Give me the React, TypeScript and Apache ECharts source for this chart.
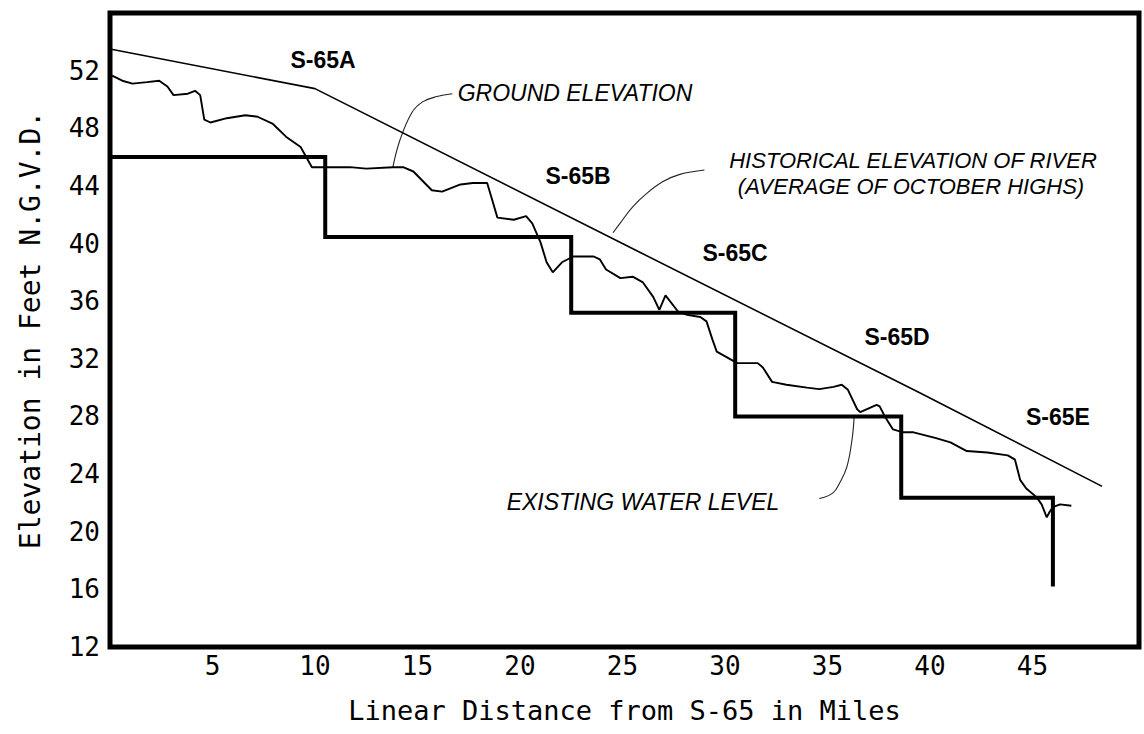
import React, { useEffect, useRef } from "react";
import * as echarts from "echarts";

// Distance (miles) / elevation (ft N.G.V.D.) pairs
const groundElevation: [number, number][] = [
  [0.1, 51.65], [0.6, 51.3], [1.1, 51.1], [1.8, 51.2], [2.4, 51.3], [2.8, 50.9], [3.1, 50.3],
  [3.8, 50.4], [4.15, 50.6], [4.4, 50.3], [4.6, 48.6], [4.9, 48.4], [5.7, 48.7], [6.6, 48.9],
  [7.2, 48.8], [7.95, 48.3], [8.6, 47.4], [9.3, 46.7], [9.85, 45.3], [10.4, 45.3], [11.7, 45.3],
  [12.5, 45.2], [13.8, 45.3], [14.3, 45.3], [14.8, 45.0], [15.7, 43.7], [16.2, 43.6], [17.1, 44.1],
  [17.7, 44.2], [18.4, 44.2], [18.6, 43.25], [18.9, 41.8], [19.7, 41.65], [20.3, 41.9], [20.6, 41.4],
  [21.0, 40.1], [21.3, 38.7], [21.6, 38.0], [22.05, 38.7], [22.6, 39.1], [23.6, 39.1], [23.9, 38.9],
  [24.2, 38.2], [24.9, 37.6], [25.5, 37.7], [26.0, 37.3], [26.5, 36.3], [26.8, 35.4], [27.1, 36.4],
  [27.7, 35.3], [28.15, 35.05], [28.8, 34.9], [29.1, 34.6], [29.4, 33.3], [29.6, 32.5], [30.1, 32.1],
  [30.6, 31.7], [31.6, 31.7], [31.85, 31.4], [32.3, 30.4], [33.0, 30.2], [34.0, 30.0], [34.6, 29.9],
  [35.3, 30.05], [35.7, 30.2], [36.0, 29.85], [36.45, 28.5], [36.6, 28.3], [37.4, 28.8], [37.55, 28.7],
  [37.8, 28.0], [38.2, 27.1], [38.7, 26.9], [39.2, 26.9], [40.3, 26.5], [41.0, 26.2], [41.8, 25.6],
  [42.8, 25.5], [43.8, 25.3], [44.15, 25.0], [44.4, 23.6], [44.7, 23.0], [45.2, 22.4], [45.45, 21.9],
  [45.7, 21.0], [45.85, 21.4], [46.0, 21.7], [46.35, 21.9], [46.9, 21.8],
];

const historicalElevation: [number, number][] = [
  [0, 53.5], [10, 50.75], [25.7, 39.5], [39.5, 29.65], [48.4, 23.15],
];

const existingWaterLevel: [number, number][] = [
  [0, 46.0], [10.5, 46.0], [10.5, 40.45], [22.5, 40.45], [22.5, 35.2], [30.5, 35.2],
  [30.5, 28.0], [38.6, 28.0], [38.6, 22.35], [46.0, 22.35], [46.0, 16.2],
];

// annotation leader curves (data coordinates)
const groundLeader: [number, number][] = [
  [13.8, 45.3], [14.15, 47.2], [14.73, 49.1], [15.27, 49.85], [15.95, 50.2], [16.7, 50.4],
];
const historicalLeader: [number, number][] = [
  [24.54, 40.75], [24.88, 41.4], [25.5, 42.55], [26.2, 43.5], [26.98, 44.3], [27.8, 44.8], [29.0, 45.1],
];
const waterLeader: [number, number][] = [
  [36.3, 27.9], [36.2, 26.4], [35.95, 24.5], [35.6, 23.4], [35.27, 22.7], [34.6, 22.3],
];

const structureLabels = ["S-65A", "S-65B", "S-65C", "S-65D", "S-65E"];
const xAxisTitle = "Linear Distance from S-65 in Miles";
const yAxisTitle = "Elevation in Feet N.G.V.D.";

export default function App() {
  const ref = useRef<HTMLDivElement>(null);

  useEffect(() => {
    if (!ref.current) return;
    const chart = echarts.init(ref.current, undefined, { renderer: "svg" });
    const mono = "DejaVu Sans Mono";
    const tickFont = { fontFamily: mono, fontSize: 26, color: "#000" };
    const boldPos: [number, number][] = [
      [323, 60], [578, 176], [735, 253], [897, 337], [1058, 417],
    ];
    const italic = {
      fontFamily: "Liberation Sans",
      fontStyle: "italic",
      fontSize: 23,
      fill: "#000",
    };
    chart.setOption({
      animation: false,
      backgroundColor: "#fff",
      grid: {
        left: 110,
        right: 5,
        top: 13,
        bottom: 87,
        show: true,
        borderColor: "#000",
        borderWidth: 5,
        backgroundColor: "transparent",
      },
      xAxis: {
        type: "value",
        min: 0,
        max: 50.2,
        interval: 5,
        axisLine: { show: false },
        axisTick: { show: false },
        splitLine: { show: false },
        axisLabel: {
          ...tickFont,
          margin: 6,
          formatter: (v: number) => (v > 0 && v < 50 ? String(v) : ""),
        },
        name: xAxisTitle,
        nameLocation: "middle",
        nameGap: 50,
        nameTextStyle: { fontFamily: mono, fontSize: 27, color: "#000" },
      },
      yAxis: {
        type: "value",
        min: 12,
        max: 56,
        interval: 4,
        axisLine: { show: false },
        axisTick: { show: false },
        splitLine: { show: false },
        axisLabel: {
          ...tickFont,
          margin: 10,
          formatter: (v: number) => (v < 56 ? String(v) : ""),
        },
        name: yAxisTitle,
        nameLocation: "middle",
        nameRotate: 90,
        nameGap: 66,
        nameTextStyle: { fontFamily: mono, fontSize: 28, color: "#000" },
      },
      series: [
        {
          name: "Ground Elevation",
          type: "line",
          data: groundElevation,
          symbol: "none",
          lineStyle: { color: "#000", width: 1.9 },
          z: 3,
        },
        {
          name: "Historical Elevation of River",
          type: "line",
          data: historicalElevation,
          symbol: "none",
          lineStyle: { color: "#000", width: 1.6 },
          z: 3,
        },
        {
          name: "Existing Water Level",
          type: "line",
          data: existingWaterLevel,
          symbol: "none",
          lineStyle: { color: "#000", width: 4, join: "miter", cap: "butt" },
          z: 4,
        },
        ...[groundLeader, historicalLeader, waterLeader].map((d, i) => ({
          name: "leader" + i,
          type: "line",
          data: d,
          symbol: "none",
          smooth: 0.4,
          silent: true,
          lineStyle: { color: "#222", width: 1.1 },
          z: 2,
        })),
      ],
      graphic: [
        ...structureLabels.map((t, i) => ({
          type: "text",
          x: boldPos[i][0],
          y: boldPos[i][1],
          style: {
            text: t,
            fontFamily: "Liberation Sans",
            fontWeight: "bold",
            fontSize: 23,
            fill: "#000",
            textAlign: "center",
            textVerticalAlign: "middle",
          },
        })),
        {
          type: "text",
          x: 575,
          y: 93,
          style: { ...italic, text: "GROUND ELEVATION", textAlign: "center", textVerticalAlign: "middle" },
        },
        {
          type: "text",
          x: 913,
          y: 160,
          style: {
            ...italic,
            fontSize: 22,
            text: "HISTORICAL ELEVATION OF RIVER",
            textAlign: "center",
            textVerticalAlign: "middle",
          },
        },
        {
          type: "text",
          x: 911,
          y: 186,
          style: {
            ...italic,
            fontSize: 22,
            text: "(AVERAGE OF OCTOBER HIGHS)",
            textAlign: "center",
            textVerticalAlign: "middle",
          },
        },
        {
          type: "text",
          x: 643,
          y: 502,
          style: { ...italic, text: "EXISTING WATER LEVEL", textAlign: "center", textVerticalAlign: "middle" },
        },
      ],
    });
    return () => chart.dispose();
  }, []);

  return (
    <div
      ref={ref}
      style={{ position: "fixed", left: 0, top: 0, width: 1144, height: 734, background: "#fff" }}
    />
  );
}
